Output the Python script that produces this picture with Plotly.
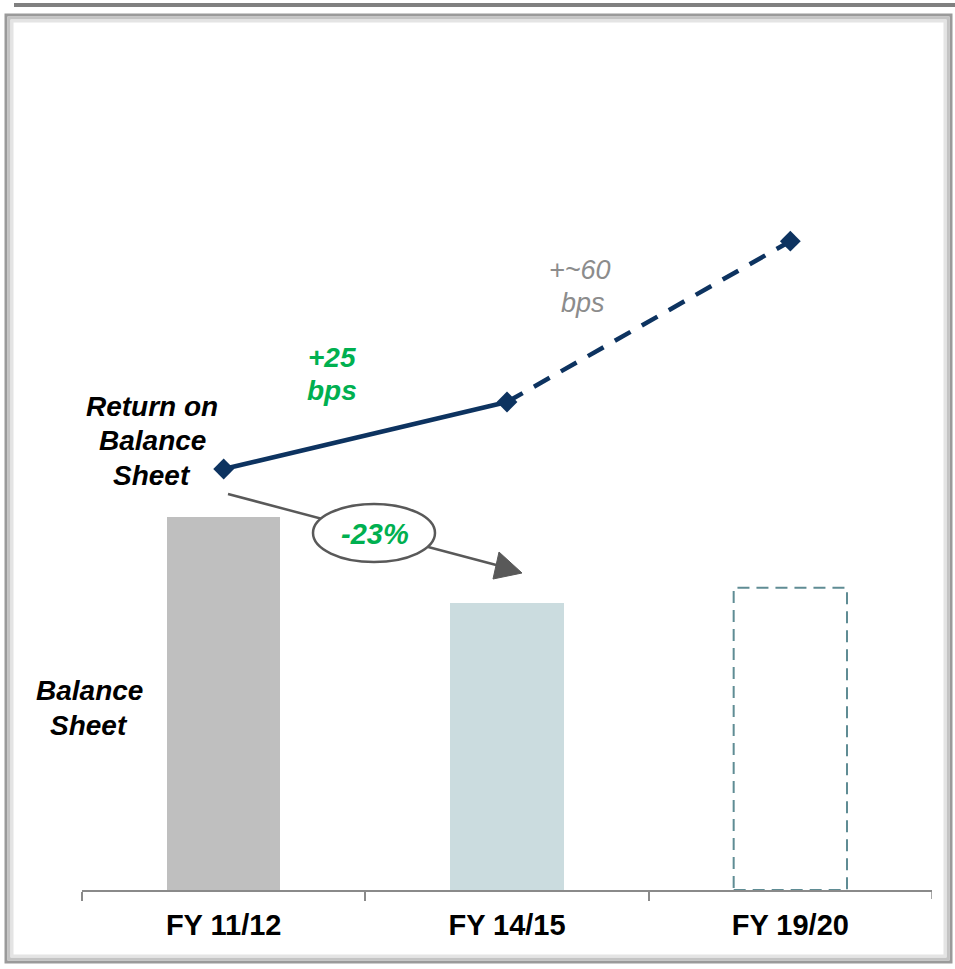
import plotly.graph_objects as go

# ---- data ----
categories = ["FY 11/12", "FY 14/15", "FY 19/20"]
balance_sheet = [100, 77, 81]          # indexed, FY11/12 = 100 (-23% by FY14/15)
return_bps = [100, 125, 185]           # return on balance sheet, bps (+25, +~60)
bar_colors = ["#BFBFBF", "#CBDCDF", "rgba(0,0,0,0)"]

W, H = 955, 969
FONT = "Liberation Sans, Arial, sans-serif"

def px(x):
    return x / W

def py(y):
    return 1 - y / H

fig = go.Figure()

fig.add_trace(go.Bar(
    x=categories, y=balance_sheet, marker=dict(color=bar_colors, line=dict(width=0)),
    width=0.4, yaxis="y", showlegend=False, hoverinfo="skip"))

# solid segment (actual), dashed segment (target)
fig.add_trace(go.Scatter(
    x=categories[:2], y=return_bps[:2], mode="lines", yaxis="y2",
    line=dict(color="#0D3360", width=4.5), showlegend=False, hoverinfo="skip"))
fig.add_trace(go.Scatter(
    x=categories[1:], y=return_bps[1:], mode="lines", yaxis="y2",
    line=dict(color="#0D3360", width=4.5, dash="18px,13px"), showlegend=False, hoverinfo="skip"))
fig.add_trace(go.Scatter(
    x=categories, y=return_bps, mode="markers", yaxis="y2",
    marker=dict(symbol="diamond", size=16, color="#0D3360"), showlegend=False, hoverinfo="skip"))

shapes = []
# dashed outline for target bar
shapes.append(dict(type="rect", xref="x", yref="y", x0=2 - 0.2, x1=2 + 0.2, y0=0, y1=balance_sheet[2],
                   line=dict(color="#5F8C94", width=2, dash="12px,7px"), fillcolor="rgba(0,0,0,0)", layer="above"))

# end ticks of the category axis
for xb in (-0.5, len(categories) - 0.5):
    shapes.append(dict(type="line", xref="x", yref="paper", x0=xb, x1=xb, y0=py(890), y1=py(899),
                       line=dict(color="#8A8A8A", width=1.5)))

# frame
shapes.append(dict(type="line", xref="paper", yref="paper", x0=px(14), x1=px(955), y0=py(5), y1=py(5),
                   line=dict(color="#808080", width=4)))
for inset, col in [(0, "#9A9A9A"), (3, "#C4C4C4"), (6, "#E4E4E4")]:
    shapes.append(dict(type="rect", xref="paper", yref="paper",
                       x0=px(6 + inset), x1=px(951 - inset), y0=py(15 + inset), y1=py(962 - inset),
                       line=dict(color=col, width=3), fillcolor="rgba(0,0,0,0)"))

# arrow line (from return point towards reduced balance sheet)
shapes.append(dict(type="line", xref="paper", yref="paper", x0=px(228), y0=py(494), x1=px(500), y1=py(566),
                   line=dict(color="#595959", width=2.5), layer="above"))
shapes.append(dict(type="path", xref="paper", yref="paper",
                   path=f"M {px(522)},{py(573)} L {px(499)},{py(552)} L {px(493)},{py(579)} Z",
                   fillcolor="#595959", line=dict(color="#595959", width=1), layer="above"))
# ellipse with -23%
shapes.append(dict(type="circle", xref="paper", yref="paper", x0=px(313), x1=px(435), y0=py(504), y1=py(562),
                   fillcolor="white", line=dict(color="#595959", width=2.5), layer="above"))

def line_ann(text, x, y, size, color):
    return dict(text=text, x=px(x), y=py(y), font=dict(size=size, color=color, family=FONT))

annotations = [
    line_ann("<b><i>-23%</i></b>", 375, 534, 29, "#00B050"),
    line_ann("<b><i>Return on</i></b>", 152, 406, 28, "black"),
    line_ann("<b><i>Balance</i></b>", 152, 440, 28, "black"),
    line_ann("<b><i>Sheet</i></b>", 152, 475, 28, "black"),
    line_ann("<b><i>Balance</i></b>", 89, 690, 28, "black"),
    line_ann("<b><i>Sheet</i></b>", 89, 725, 28, "black"),
    line_ann("<b><i>+25</i></b>", 332, 357, 28, "#00B050"),
    line_ann("<b><i>bps</i></b>", 332, 391, 28, "#00B050"),
    line_ann("<i>+~60</i>", 580, 270, 27, "#8C8C8C"),
    line_ann("<i>bps</i>", 583, 303, 27, "#8C8C8C"),
]
for a in annotations:
    a.update(xref="paper", yref="paper", showarrow=False, xanchor="center", yanchor="middle", align="center")

fig.update_layout(
    width=W, height=H, margin=dict(l=0, r=0, t=0, b=0),
    paper_bgcolor="white", plot_bgcolor="white",
    shapes=shapes, annotations=annotations, bargap=0,
    xaxis=dict(domain=[px(82), px(932)], type="category", range=[-0.5, 2.5], tickson="boundaries",
               ticks="outside", ticklen=9, tickcolor="#8A8A8A", tickwidth=1.5, ticklabelstandoff=8,
               showline=True, linecolor="#8A8A8A", linewidth=1.5, showgrid=False, zeroline=False,
               tickfont=dict(size=29, color="black", family=FONT, weight="bold"), automargin=False),
    yaxis=dict(domain=[1 - 890 / H, 1], range=[0, 890 / 3.73], visible=False, fixedrange=True),
    yaxis2=dict(domain=[1 - 890 / H, 1], range=[-57.1, 275.0], overlaying="y", visible=False),
    font=dict(family=FONT),
)

fig.write_html("out.html")
